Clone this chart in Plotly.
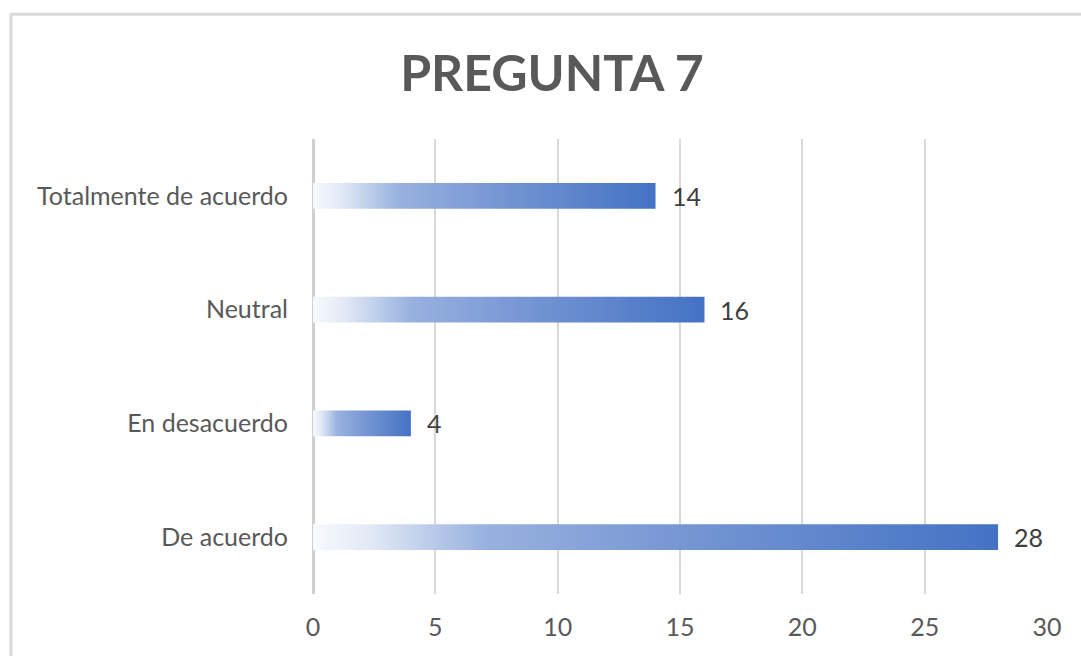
import plotly.graph_objects as go

# Survey answers for question 7 (bottom to top)
categorias = ["De acuerdo", "En desacuerdo", "Neutral", "Totalmente de acuerdo"]
respuestas = [28, 4, 16, 14]
marcas_x = [0, 5, 10, 15, 20, 25, 30]

MEDIA_BARRA = 0.114  # half bar thickness in category units
degradado = [
    [0.0, "#f7f9fd"],
    [0.08, "#e3eaf6"],
    [0.25, "#98b1df"],
    [0.55, "#7595d3"],
    [1.0, "#4472c4"],
]

fig = go.Figure()

for i, (cat, val) in enumerate(zip(categorias, respuestas)):
    y0, y1 = i - MEDIA_BARRA, i + MEDIA_BARRA
    fig.add_trace(go.Scatter(
        x=[0, val, val, 0, 0],
        y=[y0, y0, y1, y1, y0],
        mode="lines",
        line=dict(width=0),
        fill="toself",
        fillgradient=dict(type="horizontal", colorscale=degradado),
        hoverinfo="skip",
        showlegend=False,
        name=cat,
    ))
    fig.add_annotation(
        x=val, y=i, text=str(val), showarrow=False,
        xanchor="left", xshift=14,
        font=dict(family="Lato", size=25, color="#404040"),
    )

# Chart frame
fig.add_shape(
    type="rect", xref="paper", yref="paper",
    x0=-0.4115, x1=1.2, y0=-0.3, y1=1.274,
    line=dict(color="#d9d9d9", width=3), layer="below",
)

fig.update_layout(
    width=1081, height=656,
    margin=dict(l=313, r=34, t=139, b=62),
    paper_bgcolor="white", plot_bgcolor="white",
    title=dict(
        text="<b>PREGUNTA 7</b>", xref="paper", x=0.3256, xanchor="center",
        y=0.888, yanchor="middle",
        font=dict(family="Lato", size=50, color="#595959"),
    ),
    xaxis=dict(
        range=[0, 30], tickvals=marcas_x,
        showgrid=True, gridcolor="#d9d9d9", gridwidth=2,
        zeroline=True, zerolinecolor="#d0d0d0", zerolinewidth=3,
        showline=False, ticks="", ticklabelstandoff=16,
        tickfont=dict(family="Lato", size=25, color="#595959"),
        fixedrange=True,
    ),
    yaxis=dict(
        range=[-0.5, 3.5], tickvals=list(range(len(categorias))),
        ticktext=categorias, showgrid=False, zeroline=False,
        showline=False, ticks="", ticklabelstandoff=24,
        tickfont=dict(family="Lato", size=25, color="#595959"),
        fixedrange=True,
    ),
)

fig.write_html("out.html")
